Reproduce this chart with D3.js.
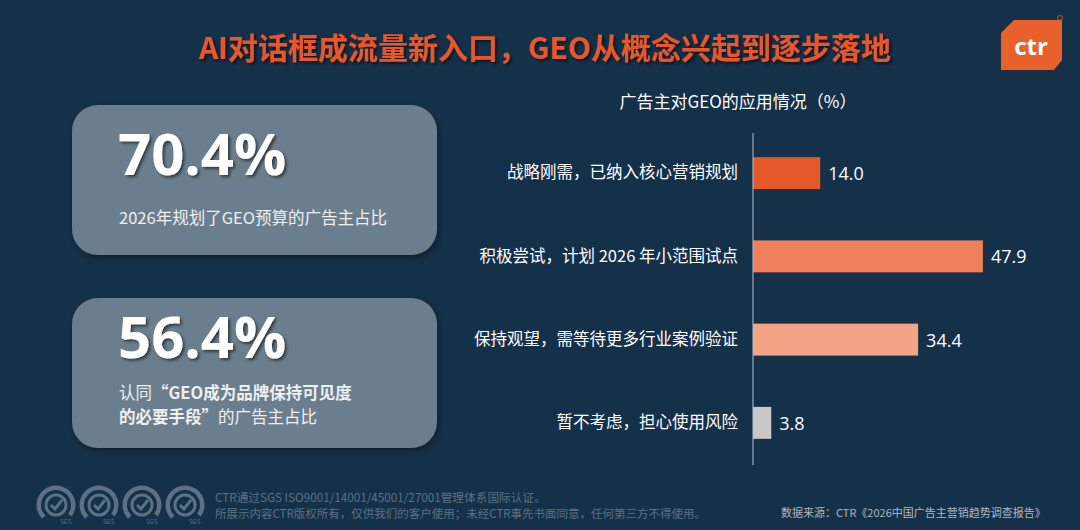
<!DOCTYPE html>
<html lang="zh">
<head>
<meta charset="UTF-8">
<title>AI对话框成流量新入口，GEO从概念兴起到逐步落地</title>
<style>
    html, body {
        margin: 0;
        padding: 0;
        background-color: #153049;
    }
    svg {
        display: block;
        font-family: "Noto Sans CJK SC", "Noto Sans", sans-serif;
    }
</style>
</head>
<body>
<svg id="chart" width="1080" height="530"></svg>
<script src="https://d3js.org/d3.v7.min.js"></script>
<script>
    // chart data
    const categories = [
        "战略刚需，已纳入核心营销规划",
        "积极尝试，计划 2026 年小范围试点",
        "保持观望，需等待更多行业案例验证",
        "暂不考虑，担心使用风险"
    ];
    const values = [14.0, 47.9, 34.4, 3.8];
    const barColors = ["#e6582a", "#ee7f5b", "#f3a386", "#c8c8c8"];

    // KPI cards
    const kpiNumbers = ["70.4%", "56.4%"];

    const title = "AI对话框成流量新入口，GEO从概念兴起到逐步落地";
    const chartTitle = "广告主对GEO的应用情况（%）";

    const svg = d3.select("#chart");

    const defs = svg.append("defs");
    let sh = defs.append("filter").attr("id", "shadow").attr("x", "-10%").attr("y", "-10%").attr("width", "130%").attr("height", "140%");
    sh.append("feDropShadow").attr("dx", 2).attr("dy", 2).attr("stdDeviation", 1.5).attr("flood-color", "#000").attr("flood-opacity", 0.55);
    let sh2 = defs.append("filter").attr("id", "boxShadow").attr("x", "-10%").attr("y", "-10%").attr("width", "130%").attr("height", "140%");
    sh2.append("feDropShadow").attr("dx", 2).attr("dy", 3).attr("stdDeviation", 3).attr("flood-color", "#000").attr("flood-opacity", 0.35);

    // title
    svg.append("text")
        .attr("x", 545)
        .attr("y", 59)
        .attr("text-anchor", "middle")
        .attr("fill", "#e8562a")
        .attr("font-size", 30)
        .attr("font-weight", 700)
        .attr("filter", "url(#shadow)")
        .text(title);

    // ctr logo
    const logo = svg.append("g");
    logo.append("path")
        .attr("d", "M1014,20 L1062,20 L1062,60 L1054,70 L1001,70 L1001,33 Z")
        .attr("fill", "#e8602a");
    logo.append("text")
        .attr("x", 1031)
        .attr("y", 55)
        .attr("text-anchor", "middle")
        .attr("fill", "#fff")
        .attr("font-size", 24)
        .attr("font-weight", 700)
        .attr("font-family", "'Open Sans', sans-serif")
        .text("ctr");
    logo.append("circle").attr("cx", 1060).attr("cy", 18).attr("r", 2.5)
        .attr("fill", "none").attr("stroke", "#e8602a").attr("stroke-width", 0.8);

    // KPI boxes
    const boxTop = [105, 298];
    const numBaseline = [175, 358];
    boxTop.forEach((top, i) => {
        const g = svg.append("g");
        g.append("rect")
            .attr("x", 72).attr("y", top)
            .attr("width", 365).attr("height", 150)
            .attr("rx", 26)
            .attr("fill", "#6b7e8d")
            .attr("filter", "url(#boxShadow)");
        g.append("text")
            .attr("x", 118).attr("y", numBaseline[i])
            .attr("fill", "#fff")
            .attr("font-size", 58)
            .attr("font-weight", 700)
            .attr("font-family", "'Open Sans', sans-serif")
            .attr("filter", "url(#shadow)")
            .text(kpiNumbers[i]);
    });

    svg.append("text")
        .attr("x", 119).attr("y", 224)
        .attr("fill", "#eef0f2")
        .attr("font-size", 16.5)
        .text("2026年规划了GEO预算的广告主占比");

    // second card caption: plain and bold parts laid side by side
    function mixedLine(yPos, parts) {
        let cx = 119;
        parts.forEach(p => {
            const t = svg.append("text")
                .attr("x", cx).attr("y", yPos)
                .attr("fill", "#eef0f2")
                .attr("font-size", 16.5)
                .attr("font-weight", p.bold ? 700 : 400)
                .text(p.text);
            cx += t.node().getComputedTextLength();
        });
    }
    mixedLine(399, [{text: "认同 ", bold: false}, {text: "“GEO成为品牌保持可见度", bold: true}]);
    mixedLine(423, [{text: "的必要手段”", bold: true}, {text: "的广告主占比", bold: false}]);

    // bar chart
    let x = d3.scaleLinear()
        .domain([0, 50])
        .range([753, 993]);

    let y = d3.scaleBand()
        .domain(categories)
        .range([131.5, 464.5])
        .paddingInner(0.616)
        .paddingOuter(0.308);

    svg.append("text")
        .attr("x", 738).attr("y", 108)
        .attr("text-anchor", "middle")
        .attr("fill", "#fff")
        .attr("font-size", 17)
        .text(chartTitle);

    svg.selectAll("rect.bar")
        .data(values)
        .join("rect")
        .attr("class", "bar")
        .attr("x", x(0))
        .attr("y", (d, i) => y(categories[i]))
        .attr("width", d => x(d) - x(0))
        .attr("height", y.bandwidth())
        .attr("fill", (d, i) => barColors[i]);

    svg.selectAll("text.val")
        .data(values)
        .join("text")
        .attr("class", "val")
        .attr("x", d => x(d) + 8)
        .attr("y", (d, i) => y(categories[i]) + y.bandwidth() / 2)
        .attr("dominant-baseline", "central")
        .attr("fill", "#fff")
        .attr("font-size", 18)
        .attr("font-family", "'Open Sans', sans-serif")
        .text(d => d.toFixed(1));

    const axis = svg.append("g")
        .attr("transform", `translate(${x(0)},0)`)
        .call(d3.axisLeft(y).tickSize(0).tickPadding(15));
    axis.select(".domain").remove();
    axis.selectAll("text")
        .attr("fill", "#fff")
        .attr("font-size", 16.5)
        .attr("font-family", "'Noto Sans CJK SC', sans-serif");
    svg.append("line")
        .attr("x1", x(0)).attr("x2", x(0))
        .attr("y1", 133).attr("y2", 465)
        .attr("stroke", "#b8c2cc")
        .attr("stroke-width", 1);

    // footer: certification badges
    const badgeX = [56, 99, 142, 185];
    badgeX.forEach(cx => {
        const g = svg.append("g").attr("transform", `translate(${cx},505)`).attr("fill", "none").attr("stroke", "#5d7183");
        g.append("path").attr("d", d3.arc()({innerRadius: 15, outerRadius: 19.5, startAngle: -Math.PI * 0.75, endAngle: Math.PI * 0.7})).attr("fill", "#5d7183").attr("stroke", "none");
        g.append("circle").attr("r", 10).attr("stroke-width", 3);
        g.append("path").attr("d", "M-5,0 L-1,4 L6,-5").attr("stroke-width", 3);
        g.append("text").attr("x", 4).attr("y", 19).attr("font-size", 6).attr("fill", "#5d7183").attr("stroke", "none").text("SGS");
    });

    svg.append("text")
        .attr("x", 215).attr("y", 502)
        .attr("fill", "#5d7183")
        .attr("font-size", 11.7)
        .text("CTR通过SGS ISO9001/14001/45001/27001管理体系国际认证。");
    svg.append("text")
        .attr("x", 215).attr("y", 518)
        .attr("fill", "#5d7183")
        .attr("font-size", 11.5)
        .text("所展示内容CTR版权所有，仅供我们的客户使用；未经CTR事先书面同意，任何第三方不得使用。");

    svg.append("text")
        .attr("x", 781).attr("y", 517)
        .attr("fill", "#aeb7c0")
        .attr("font-size", 11)
        .text("数据来源：CTR《2026中国广告主营销趋势调查报告》");
</script>
</body>
</html>
